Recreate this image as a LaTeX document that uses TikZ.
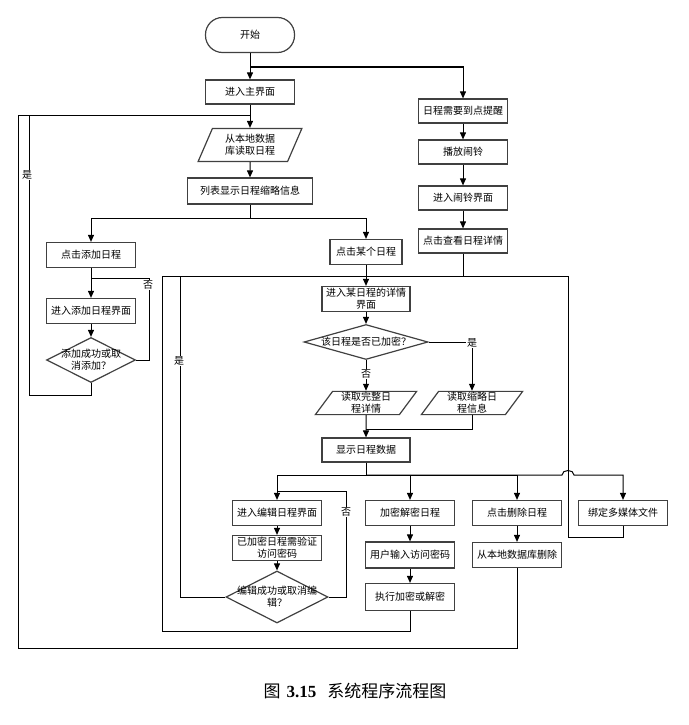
\documentclass[tikz,border=0pt]{standalone}
\usepackage{fontspec}
\setmainfont{Liberation Serif}
\newfontfamily\cjk{Noto Sans CJK SC}
\usetikzlibrary{shapes.geometric}
\usetikzlibrary{arrows.meta}

\begin{document}
\begin{tikzpicture}[x=1pt, y=-1pt,
  every node/.style={font=\cjk\fontsize{10}{12}\selectfont, align=center},
  box/.style={draw=black!75, line width=1.2pt, rectangle, minimum width=89pt, minimum height=25pt, inner sep=1pt},
  term/.style={box, rounded corners=17pt, minimum height=35pt},
  iobox/.style={draw=black!75, line width=1.2pt, trapezium, trapezium left angle=60, trapezium right angle=120,
    trapezium stretches=true, minimum width=102pt, minimum height=23pt, inner sep=1pt},
  dec/.style={draw=black!75, line width=1.2pt, diamond, inner sep=0pt},
  arr/.style={-{Triangle[length=7pt,width=6pt]}, line width=1pt},
  ln/.style={line width=1pt},
  yn/.style={fill=white, inner sep=1pt}]
  \useasboundingbox (0,0) rectangle (688,725);

  % Main column
  \node[term] (start) at (250,35) {开始};
  \node[box, minimum height=24pt] (main) at (250,92) {进入主界面};
  \node[iobox, trapezium left angle=67, trapezium right angle=113, minimum width=104pt, minimum height=33pt]
    (readdb) at (250,145) {从本地数据\\库读取日程};
  \node[box, minimum width=125pt, minimum height=26pt] (list) at (250,191) {列表显示日程缩略信息};

  % Add branch
  \node[box] (addclick) at (91,255) {点击添加日程};
  \node[box] (addui) at (91,311) {进入添加日程界面};
  \node[dec, minimum width=89pt, minimum height=45pt, label={center:添加成功或取\\消添加？}] (adddec) at (91,360) {};

  % Alarm branch
  \node[box, minimum height=24pt] (remind) at (463,111) {日程需要到点提醒};
  \node[box, minimum height=24pt] (alarm) at (463,152) {播放闹铃};
  \node[box, minimum height=24pt] (alarmui) at (463,198) {进入闹铃界面};
  \node[box, minimum height=24pt] (viewdet) at (463,241) {点击查看日程详情};

  % Detail
  \node[box, minimum width=72pt] (pick) at (366,252) {点击某个日程};
  \node[box, minimum width=88pt] (detail) at (366,299) {进入某日程的详情\\界面};
  \node[dec, minimum width=124pt, minimum height=35pt, label={center:该日程是否已加密？}] (encdec) at (366,342) {};
  \node[iobox] (readfull) at (366,403) {读取完整日\\程详情};
  \node[iobox] (readbrief) at (472,403) {读取缩略日\\程信息};
  \node[box, minimum width=88pt, minimum height=24pt] (show) at (366,450) {显示日程数据};

  % Actions
  \node[box] (editui) at (277,513) {进入编辑日程界面};
  \node[box] (verify) at (277,548) {已加密日程需验证\\访问密码};
  \node[dec, minimum width=102pt, minimum height=52pt, label={center:编辑成功或取消编\\辑？}] (editdec) at (277,597) {};
  \node[box] (crypt) at (410,513) {加密解密日程};
  \node[box, minimum height=26pt] (pwd) at (410,555) {用户输入访问密码};
  \node[box, minimum height=27pt] (docrypt) at (410,597) {执行加密或解密};
  \node[box] (delclick) at (517,513) {点击删除日程};
  \node[box] (delete) at (517,555) {从本地数据库删除};
  \node[box] (media) at (623,513) {绑定多媒体文件};

  % Junctions
  \coordinate (j1) at (250,67);
  \coordinate (j2) at (250,218);
  \coordinate (j3) at (250,115);
  \coordinate (j4) at (91,278);
  \coordinate (j5) at (366,429);
  \coordinate (j6) at (366,475);
  \coordinate (j7) at (277,491);

  % Straight arrows
  \foreach \a/\b in {start/main, main/readdb, readdb/list, addclick/addui, addui/adddec,
      remind/alarm, alarm/alarmui, alarmui/viewdet, pick/detail, detail/encdec, encdec/readfull,
      readfull/show, editui/verify, verify/editdec, crypt/pwd, pwd/docrypt, delclick/delete}
    \draw[arr] (\a) -- (\b);

  % Branches
  \draw[arr] (j1) -| (remind);
  \draw[ln] (list) -- (j2);
  \draw[arr] (j2) -| (addclick);
  \draw[arr] (j2) -| (pick);
  \draw[arr] (encdec) -| (readbrief);
  \draw[ln] (readbrief.south) |- (j5);
  \draw[ln] (show) -- (j6);
  \draw[arr] (j6) -| (editui);
  \draw[arr] (j6) -| (crypt);
  \draw[arr] (j6) -| (delclick);
  \draw[arr] (j6) -- (562,475) .. controls (562,469) and (574,469) .. (574,475) -| (media);

  % Loops
  \draw[ln] (adddec.east) -| (149,278) -- (j4);
  \draw[ln] (adddec.south) -- (91,395) -- (29,395) -- (29,115) -- (j3);
  \draw[ln] (delete.south) -- (517,648) -- (18,648) -- (18,115) -- (j3);
  \draw[ln] (viewdet.south) -- (463,276);
  \draw[ln] (editdec.east) -| (346,491) -- (j7);
  \draw[ln] (editdec.west) -| (180,276);
  \draw[ln] (docrypt.south) |- (162,631) -- (162,276) -- (568,276) -- (568,537) -| (media.south);

  % Yes / no labels
  \node[yn] (y1) at (27,175) {是};
  \node[yn] (n1) at (148,285) {否};
  \node[yn] (y2) at (179,361) {是};
  \node[yn] (y3) at (472,343) {是};
  \node[yn] (n2) at (366,374) {否};
  \node[yn] (n3) at (346,512) {否};

  % Caption
  \node (cap) at (355,691) {\fontsize{17}{20}\selectfont 图\hspace{6pt}{\rmfamily\bfseries 3.15}\hspace{11pt}系统程序流程图};
\end{tikzpicture}
\end{document}
